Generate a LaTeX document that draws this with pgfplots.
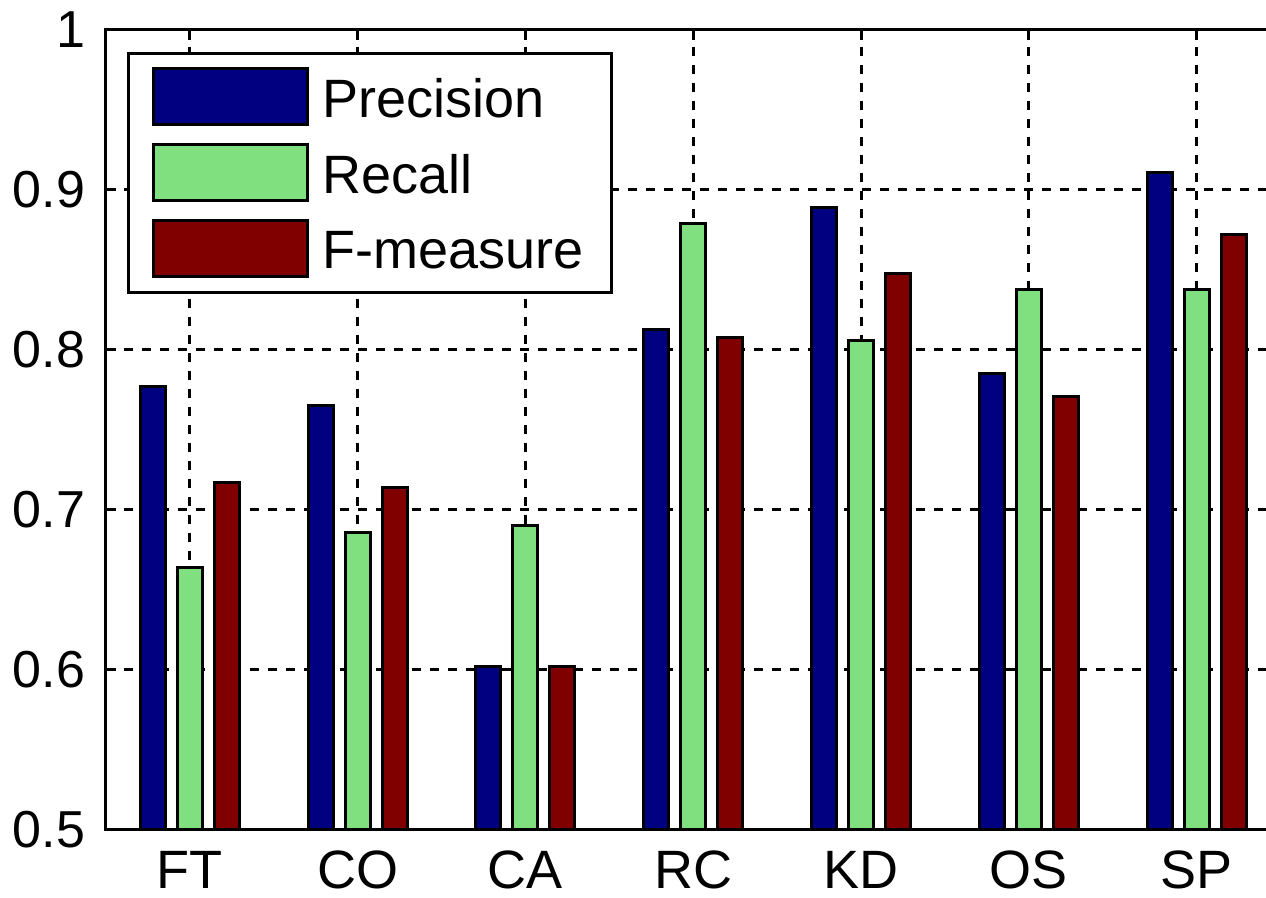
\documentclass[border=0pt]{standalone}
\usepackage{fontspec}
\setmainfont{Liberation Sans}
\usepackage{pgfplots}
\pgfplotsset{compat=1.18}
\definecolor{cP}{RGB}{0,0,128}
\definecolor{cR}{RGB}{128,224,128}
\definecolor{cF}{RGB}{128,0,0}
\pgfplotsset{mylegend/.style={legend image code/.code={\draw[##1,line width=1.5pt] (0pt,-13pt) rectangle (77pt,15pt);}}}
\begin{document}
\begin{tikzpicture}
\begin{axis}[name=ax,
 scale only axis, width=587.3pt, height=400pt,
 xmin=-0.5, xmax=6.5, ymin=0.5, ymax=1,
 ybar=6pt, bar width=12.5pt,
 xtick={0,1,2,3,4,5,6}, xticklabels={FT,CO,CA,RC,KD,OS,SP},
 ytick={0.5,0.6,0.7,0.8,0.9,1}, yticklabels={0.5,0.6,0.7,0.8,0.9,1},
 tick align=inside, major tick length=5pt,
 every tick/.style={black, line width=1.5pt},
 axis line style={line width=1.5pt},
 grid=major, major grid style={black, line width=1.5pt, dash pattern=on 4.5pt off 4.5pt},
 yticklabel style={font=\fontsize{26}{31}\selectfont, xshift=-7pt},
 xticklabel style={font=\fontsize{27}{32}\selectfont, yshift=-7pt},
 legend style={at={(axis description cs:0,1)}, anchor=north west, xshift=10.5pt, yshift=-11pt,
   line width=1.5pt, draw=black, font=\fontsize{27}{32}\selectfont,
   inner xsep=12pt, inner ysep=7pt, row sep=8.5pt, column sep=4.5pt, nodes={inner sep=2pt}},
 legend cell align=left,
]
\addplot[fill=cP, draw=black, line width=1.5pt, mylegend] coordinates {(0,0.777) (1,0.765) (2,0.602) (3,0.813) (4,0.889) (5,0.785) (6,0.911)};
\addplot[fill=cR, draw=black, line width=1.5pt, mylegend] coordinates {(0,0.664) (1,0.686) (2,0.690) (3,0.879) (4,0.806) (5,0.838) (6,0.838)};
\addplot[fill=cF, draw=black, line width=1.5pt, mylegend] coordinates {(0,0.717) (1,0.714) (2,0.602) (3,0.808) (4,0.848) (5,0.771) (6,0.872)};
\legend{Precision,Recall,F-measure}
\end{axis}
\pgfresetboundingbox
\path[use as bounding box] (ax.south west) ++(-53pt,-34pt) rectangle ++(633pt,449pt);
\end{tikzpicture}
\end{document}
